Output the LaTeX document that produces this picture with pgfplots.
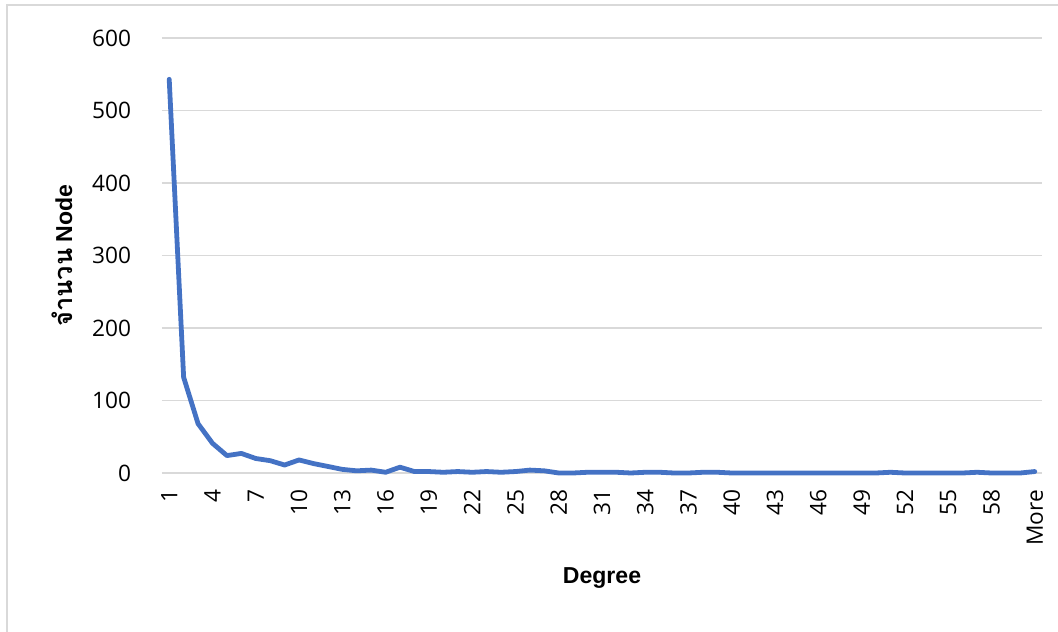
\documentclass[border=0pt]{standalone}
\usepackage{fontspec}
\setmainfont{Liberation Sans}
\newfontfamily\thaifont[Script=Thai]{Loma}
\newfontfamily\tickfont{Open Sans}
\usepackage{pgfplots}
\pgfplotsset{compat=1.18}
\definecolor{excelblue}{HTML}{4472C4}
\definecolor{gridgray}{HTML}{D9D9D9}
\begin{document}
\begin{tikzpicture}
\useasboundingbox (0,0) rectangle (793.5pt,474pt);
\draw[gridgray, line width=1.2pt] (5.25pt,-20pt) -- (5.25pt,470.25pt) -- (820pt,470.25pt);
\begin{axis}[
  at={(121.5pt,119.25pt)}, anchor=south west,
  scale only axis, width=660pt, height=326.25pt,
  xmin=0.5, xmax=61.5, ymin=0, ymax=600,
  axis line style={draw=none},
  major tick length=0pt,
  ytick={0,100,...,600},
  ymajorgrids, grid style={gridgray, line width=0.9pt},
  xtick={1,4,...,61},
  xticklabels={1,4,7,10,13,16,19,22,25,28,31,34,37,40,43,46,49,52,55,58,More},
  /pgf/number format/assume math mode=true,
  tick label style={font=\tickfont\fontsize{17pt}{20pt}\selectfont, text=black},
  xticklabel style={rotate=90, anchor=east, inner sep=0pt},
  yticklabel style={anchor=east, inner sep=0pt},
  xticklabel shift=12.5pt,
  yticklabel shift=23pt,
  xlabel={\bfseries Degree},
  ylabel={{\thaifont\fontsize{19pt}{22pt}\selectfont\bfseries จำนวน} \bfseries Node},
  label style={font=\fontsize{17.3pt}{20pt}\selectfont},
  xlabel style={at={(axis description cs:0.5,-0.2414)}, anchor=center},
  ylabel style={at={(axis description cs:-0.1136,0.5)}, anchor=center},
  clip=false,
]
\addplot[excelblue, line width=3.6pt, line join=round, line cap=round] coordinates {
(1,543) (2,132) (3,68) (4,41) (5,24) (6,27) (7,20) (8,17) (9,11) (10,18)
(11,13) (12,9) (13,5) (14,3) (15,4) (16,1) (17,8) (18,2) (19,2) (20,1)
(21,2) (22,1) (23,2) (24,1) (25,2) (26,4) (27,3) (28,0) (29,0) (30,1)
(31,1) (32,1) (33,0) (34,1) (35,1) (36,0) (37,0) (38,1) (39,1) (40,0)
(41,0) (42,0) (43,0) (44,0) (45,0) (46,0) (47,0) (48,0) (49,0) (50,0)
(51,1) (52,0) (53,0) (54,0) (55,0) (56,0) (57,1) (58,0) (59,0) (60,0)
(61,2)
};
\end{axis}
\end{tikzpicture}
\end{document}
